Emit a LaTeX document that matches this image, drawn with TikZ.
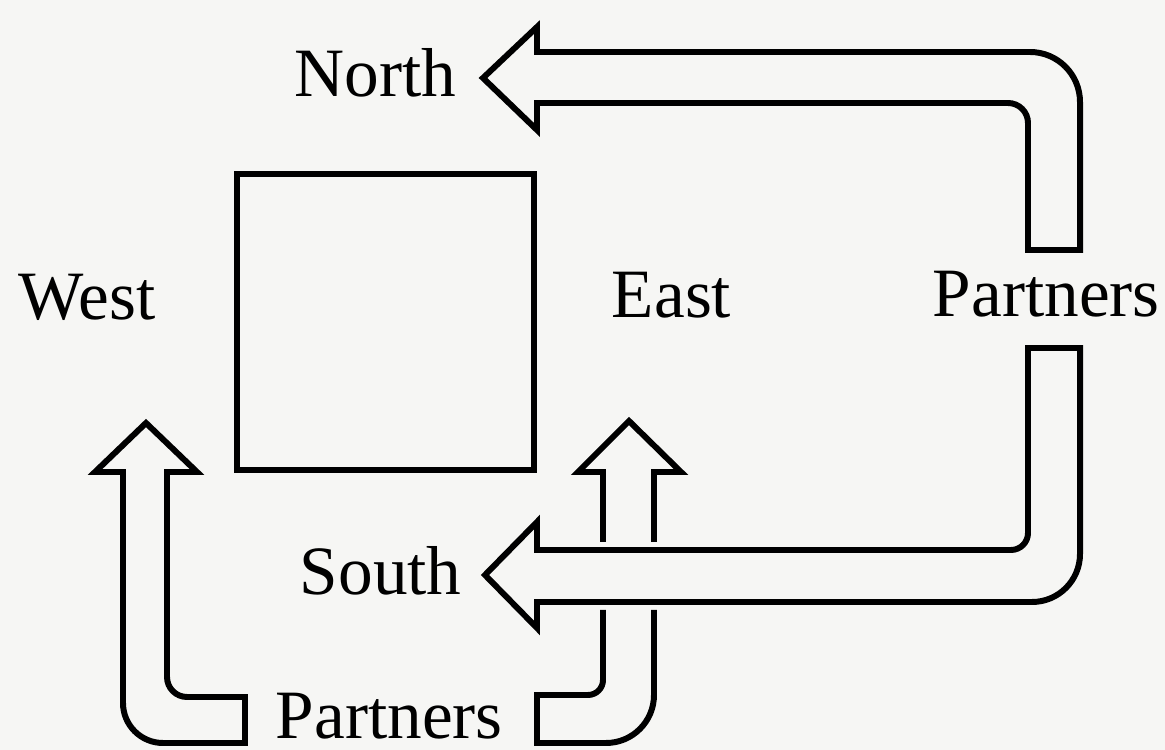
\documentclass[tikz,border=0pt]{standalone}
\usepackage{fontspec}
\setmainfont{Liberation Serif}
\definecolor{paper}{rgb}{0.965, 0.965, 0.957}
\tikzset{compass/.style={anchor=base west, inner sep=0pt, font=\fontsize{19.7}{24}\selectfont}}

\begin{document}
\begin{tikzpicture}[x=0.1mm, y=0.1mm, line width=1.7pt]
\fill [paper] (0, 0) rectangle (1165, 750);
\useasboundingbox (0, 0) rectangle (1165, 750);
\draw (237, 280) rectangle (534, 576);
\node [compass] (north) at (292, 653) {North};
\node [compass] (west) at (16, 430) {West};
\node [compass] (east) at (609, 432) {East};
\node [compass] (partnersNS) at (930, 433) {Partners};
\node [compass] (south) at (297, 155) {South};
\node [compass] (partnersEW) at (273, 11) {Partners};
% north-south partners
\draw (483, 672) -- (537, 723) -- (537, 698) -- (1030, 698) arc (90:0:5mm) -- (1080, 500) -- (1028, 500) -- (1028, 627) arc (0:90:2mm) -- (537, 647) -- (537, 620) -- cycle;
\draw (485, 175) -- (537, 228) -- (537, 200) -- (1011, 200) arc (-90:0:1.7mm) -- (1028, 402) -- (1080, 402) -- (1080, 196) arc (0:-90:4.8mm) -- (537, 148) -- (537, 122) -- cycle;
% east-west partners
\draw (146, 327) -- (197, 278) -- (167, 278) -- (167, 73) arc (180:270:2mm) -- (245, 53) -- (245, 7) -- (163, 7) arc (270:180:4mm) -- (123, 278) -- (95, 278) -- cycle;
\draw (603, 208) -- (603, 278) -- (578, 278) -- (629, 329) -- (681, 278) -- (654, 278) -- (654, 208);
\draw (603, 140) -- (603, 70) arc (0:-90:1.5mm) -- (537, 55) -- (537, 7) -- (606, 7) arc (-90:0:4.8mm) -- (654, 140);
\end{tikzpicture}
\end{document}
